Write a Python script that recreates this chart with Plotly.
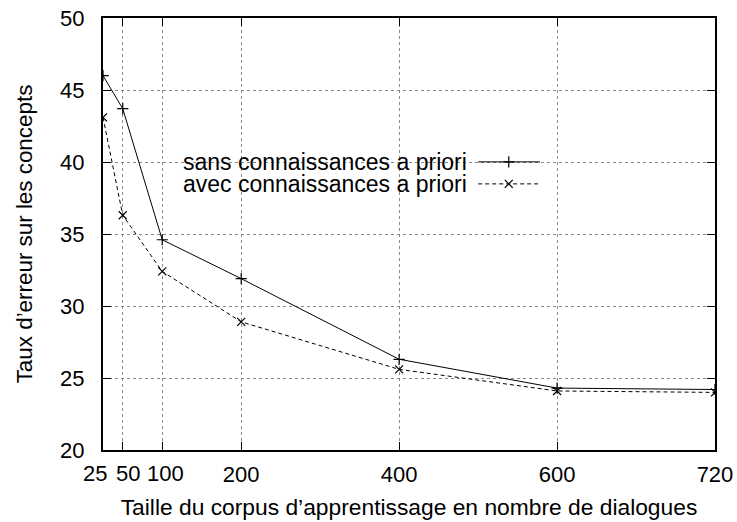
import plotly.graph_objects as go

# Data
x_pos = [25, 50, 100, 200, 400, 600, 800]          # axis positions (last point drawn at 800, labelled 720)
tick_labels = ["25", "50", "100", "200", "400", "600", "720"]
sans = [46.0, 43.7, 34.6, 31.9, 26.3, 24.3, 24.2]
avec = [43.1, 36.3, 32.4, 28.9, 25.6, 24.1, 24.0]
names = ["sans connaissances a priori", "avec connaissances a priori"]

FONT = "Liberation Sans, Arial, Helvetica, sans-serif"

fig = go.Figure()
fig.add_trace(go.Scatter(
    x=x_pos, y=sans, mode="lines+markers", name=names[0],
    line=dict(color="black", width=1),
    marker=dict(symbol="cross-thin", size=8, line=dict(color="black", width=1.2)),
    showlegend=False))
fig.add_trace(go.Scatter(
    x=x_pos, y=avec, mode="lines+markers", name=names[1],
    line=dict(color="black", width=1, dash="4px,3px"),
    marker=dict(symbol="x-thin", size=8, line=dict(color="black", width=1.2)),
    showlegend=False))

# Manual gnuplot-style legend (text left, sample right) on an overlay axis in [0,1]
leg_y = [0.667, 0.616]
fig.add_trace(go.Scatter(
    x=[0.613, 0.714], y=[leg_y[0], leg_y[0]], mode="lines", xaxis="x2", yaxis="y2",
    line=dict(color="black", width=1), showlegend=False, hoverinfo="skip"))
fig.add_trace(go.Scatter(
    x=[0.663], y=[leg_y[0]], mode="markers", xaxis="x2", yaxis="y2",
    marker=dict(symbol="cross-thin", size=8, line=dict(color="black", width=1.2)),
    showlegend=False, hoverinfo="skip"))
fig.add_trace(go.Scatter(
    x=[0.613, 0.714], y=[leg_y[1], leg_y[1]], mode="lines", xaxis="x2", yaxis="y2",
    line=dict(color="black", width=1, dash="4px,3px"), showlegend=False, hoverinfo="skip"))
fig.add_trace(go.Scatter(
    x=[0.663], y=[leg_y[1]], mode="markers", xaxis="x2", yaxis="y2",
    marker=dict(symbol="x-thin", size=8, line=dict(color="black", width=1.2)),
    showlegend=False, hoverinfo="skip"))

annotations = []
for nm, yy in zip(names, leg_y):
    annotations.append(dict(
        text=nm, xref="paper", yref="paper", x=0.598, y=yy,
        xanchor="right", yanchor="middle", showarrow=False,
        font=dict(family=FONT, size=23, color="black")))

# The crowded leftmost tick labels are nudged apart (as in the original)
nudge = [("right", 6), ("left", -9), ("center", 3)]
for i, (anchor, shift) in enumerate(nudge):
    annotations.append(dict(text=tick_labels[i], xref="x", yref="paper", x=x_pos[i], y=0,
                            xanchor=anchor, yanchor="middle", xshift=shift, yshift=-23,
                            showarrow=False, font=dict(family=FONT, size=22, color="black")))
axis_ticktext = [""] * len(nudge) + tick_labels[len(nudge):]

shapes = [dict(type="rect", xref="paper", yref="paper",
               x0=0.004, x1=0.738, y0=0.587, y1=0.694,
               fillcolor="white", line=dict(width=0), layer="between")]

fig.update_layout(
    width=737, height=522,
    margin=dict(l=103, r=22, t=18, b=72),
    paper_bgcolor="white", plot_bgcolor="white",
    font=dict(family=FONT, size=22, color="black"),
    annotations=annotations, shapes=shapes,
    xaxis=dict(
        range=[24.99, 800.01], tickvals=x_pos, ticktext=axis_ticktext, tickangle=0,
        ticks="inside", ticklen=8, tickwidth=1.2, tickcolor="black",
        showline=True, linecolor="black", linewidth=2, mirror="ticks",
        showgrid=True, gridcolor="#888888", gridwidth=1, griddash="dot",
        zeroline=False, ticklabelstandoff=4, automargin=False,
        ticklabeloverflow="allow",
        title=dict(text="Taille du corpus d\u2019apprentissage en nombre de dialogues",
                   font=dict(size=22.8), standoff=13),
        tickfont=dict(size=22)),
    yaxis=dict(
        range=[20, 50], dtick=5,
        ticks="inside", ticklen=8, tickwidth=1.2, tickcolor="black",
        showline=True, linecolor="black", linewidth=2, mirror="ticks",
        showgrid=True, gridcolor="#888888", gridwidth=1, griddash="dot",
        zeroline=False, ticklabelstandoff=12, automargin=False,
        ticklabeloverflow="allow",
        title=dict(text="Taux d\u2019erreur sur les concepts", font=dict(size=22.4), standoff=21),
        tickfont=dict(size=22)),
    xaxis2=dict(range=[0, 1], overlaying="x", visible=False, fixedrange=True),
    yaxis2=dict(range=[0, 1], overlaying="y", visible=False, fixedrange=True),
)

fig.write_html("out.html", config={"displayModeBar": False},
               post_script="document.body.style.margin='0';")
